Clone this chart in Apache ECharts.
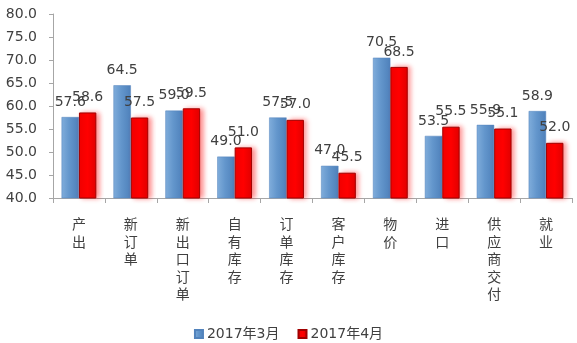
<!DOCTYPE html>
<html>
<head>
<meta charset="utf-8">
<script src="https://cdn.jsdelivr.net/npm/echarts@6/dist/echarts.min.js"></script>
<style>
  html, body { margin: 0; padding: 0; background: #fff; }
  #chart { width: 577px; height: 343px; }
</style>
</head>
<body>
<div id="chart"></div>
<script>
// Index components, March vs April 2017
const categories = ['产出', '新订单', '新出口订单', '自有库存', '订单库存', '客户库存', '物价', '进口', '供应商交付', '就业'];
const march2017 = [57.6, 64.5, 59.0, 49.0, 57.5, 47.0, 70.5, 53.5, 55.9, 58.9];
const april2017 = [58.6, 57.5, 59.5, 51.0, 57.0, 45.5, 68.5, 55.5, 55.1, 52.0];
const seriesNames = ['2017年3月', '2017年4月'];

const textColor = '#404040';
const numFont = 'DejaVu Sans';
const cjkFont = '"Noto Sans CJK SC", "DejaVu Sans"';
const mixedFont = '"DejaVu Sans", "Noto Sans CJK SC"';

const valueLabel = {
  show: true,
  position: 'top',
  distance: 8,
  color: textColor,
  fontFamily: numFont,
  fontSize: 14,
  formatter: p => p.value.toFixed(1)
};

const chart = echarts.init(document.getElementById('chart'), null, { renderer: 'canvas' });
chart.setOption({
  animation: false,
  grid: { left: 53, right: 5, top: 14, bottom: 145, containLabel: false },
  legend: {
    data: seriesNames,
    left: 'center',
    top: 322,
    itemWidth: 8,
    itemHeight: 8,
    itemGap: 18,
    icon: 'rect',
    textStyle: { color: textColor, fontFamily: mixedFont, fontSize: 14, padding: [0, 0, 0, -1] }
  },
  xAxis: {
    type: 'category',
    data: categories,
    axisLine: { lineStyle: { color: '#A6A6A6' } },
    axisTick: { show: true, alignWithLabel: false, length: 5, lineStyle: { color: '#A6A6A6' } },
    axisLabel: {
      color: textColor,
      fontFamily: cjkFont,
      fontSize: 14,
      lineHeight: 17.5,
      margin: 17,
      interval: 0,
      formatter: v => v.split('').join('\n')
    }
  },
  yAxis: {
    type: 'value',
    min: 40,
    max: 80,
    interval: 5,
    splitLine: { show: false },
    axisLine: { show: true, lineStyle: { color: '#A6A6A6' } },
    axisTick: { show: true, length: 4, lineStyle: { color: '#A6A6A6' } },
    axisLabel: {
      color: textColor,
      fontFamily: numFont,
      fontSize: 14,
      margin: 16,
      formatter: v => v.toFixed(1)
    }
  },
  series: [
    {
      name: seriesNames[0],
      type: 'bar',
      data: march2017,
      barGap: '0%',
      barCategoryGap: '33%',
      itemStyle: {
        color: new echarts.graphic.LinearGradient(0, 0, 1, 0, [
          { offset: 0, color: '#80ADDB' },
          { offset: 0.45, color: '#6396CC' },
          { offset: 1, color: '#4E80BA' }
        ]),
        borderColor: '#5283BC',
        borderWidth: 0.5
      },
      label: valueLabel
    },
    {
      name: seriesNames[1],
      type: 'bar',
      data: april2017,
      itemStyle: {
        color: new echarts.graphic.LinearGradient(0, 0, 1, 0, [
          { offset: 0, color: '#F00000' },
          { offset: 0.5, color: '#FF0000' },
          { offset: 1, color: '#E00000' }
        ]),
        borderColor: '#A00000',
        borderWidth: 1,
        shadowColor: 'rgba(255,0,0,0.45)',
        shadowBlur: 5,
        shadowOffsetX: 3,
        shadowOffsetY: 0
      },
      label: valueLabel
    }
  ]
});
</script>
</body>
</html>
